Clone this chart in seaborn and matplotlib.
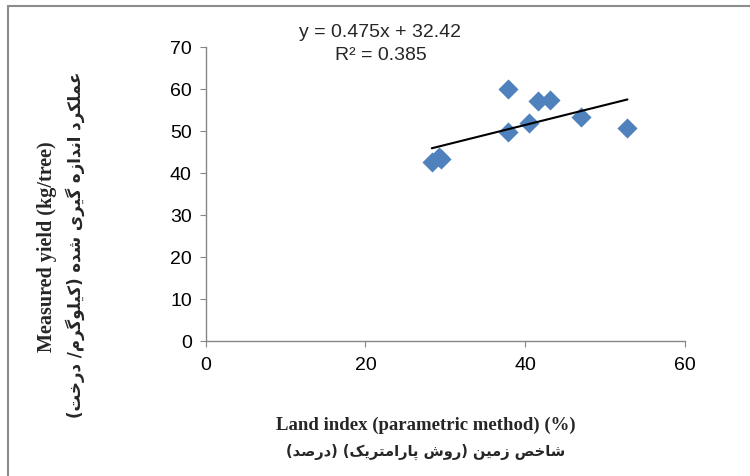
import numpy as np
import matplotlib
matplotlib.use('Agg')
import matplotlib.pyplot as plt
import seaborn as sns
import pandas as pd

# Data
land_index = [28.3, 29.2, 29.4, 37.8, 37.8, 40.5, 41.6, 43.1, 47.0, 52.8]
measured_yield = [42.6, 43.8, 43.2, 60.0, 49.7, 52.0, 57.2, 57.4, 53.2, 50.6]
slope = 0.475
intercept = 32.42
r_squared = 0.385

x_ticks = [0, 20, 40, 60]
y_ticks = [0, 10, 20, 30, 40, 50, 60, 70]

x_label_en = 'Land index (parametric method) (%)'
x_label_fa = 'شاخص زمین (روش پارامتریک) (درصد)'
y_label_en = 'Measured yield (kg/tree)'
y_label_fa = 'عملکرد اندازه گیری شده (کیلوگرم/ درخت)'


# ---- minimal Persian shaping (matplotlib has no bidi / joining) ----
# letter: (isolated, final, initial, medial)
FORMS = {
    'ا': (0xFE8D, 0xFE8E, None, None),
    'د': (0xFEA9, 0xFEAA, None, None),
    'ر': (0xFEAD, 0xFEAE, None, None),
    'ز': (0xFEAF, 0xFEB0, None, None),
    'و': (0xFEED, 0xFEEE, None, None),
    'ت': (0xFE95, 0xFE96, 0xFE97, 0xFE98),
    'خ': (0xFEA5, 0xFEA6, 0xFEA7, 0xFEA8),
    'ش': (0xFEB5, 0xFEB6, 0xFEB7, 0xFEB8),
    'ص': (0xFEB9, 0xFEBA, 0xFEBB, 0xFEBC),
    'ع': (0xFEC9, 0xFECA, 0xFECB, 0xFECC),
    'ل': (0xFEDD, 0xFEDE, 0xFEDF, 0xFEE0),
    'م': (0xFEE1, 0xFEE2, 0xFEE3, 0xFEE4),
    'ن': (0xFEE5, 0xFEE6, 0xFEE7, 0xFEE8),
    'ه': (0xFEE9, 0xFEEA, 0xFEEB, 0xFEEC),
    'پ': (0xFB56, 0xFB57, 0xFB58, 0xFB59),
    'ک': (0xFB8E, 0xFB8F, 0xFB90, 0xFB91),
    'گ': (0xFB92, 0xFB93, 0xFB94, 0xFB95),
    'ی': (0xFBFC, 0xFBFD, 0xFBFE, 0xFBFF),
}
MIRROR = {'(': ')', ')': '('}


def shape_fa(text):
    out = []
    for i, ch in enumerate(text):
        if ch not in FORMS:
            out.append(ch)
            continue
        iso, fin, ini, med = FORMS[ch]
        prev = text[i - 1] if i > 0 else ''
        nxt = text[i + 1] if i + 1 < len(text) else ''
        join_prev = prev in FORMS and FORMS[prev][2] is not None
        join_next = ini is not None and nxt in FORMS
        if join_prev and join_next:
            code = med
        elif join_prev:
            code = fin
        elif join_next:
            code = ini
        else:
            code = iso
        out.append(chr(code))
    return ''.join(MIRROR.get(c, c) for c in reversed(out))


sns.set_style('white')
plt.rcParams['font.family'] = ['Liberation Sans', 'DejaVu Sans']

fig = plt.figure(figsize=(7.5, 4.77), dpi=100)
ax = fig.add_axes([0.2743, 0.2836, 0.6390, 0.6158])

df = pd.DataFrame({'x': land_index, 'y': measured_yield})
sns.scatterplot(data=df, x='x', y='y', ax=ax, marker='D', s=105,
                color='#4F81BD', linewidth=0, zorder=3)

x_fit = np.array([min(land_index), max(land_index)])
ax.plot(x_fit, slope * x_fit + intercept, color='black', linewidth=1.5, zorder=4)

ax.set_xlim(0, 60)
ax.set_ylim(0, 70)
ax.set_xticks(x_ticks)
ax.set_yticks(y_ticks)
ax.tick_params(axis='both', labelsize=14, colors='#868686', labelcolor='black',
               length=4, width=0.8, direction='out', pad=6)
ax.tick_params(axis='x', pad=7)
ax.tick_params(left=True, bottom=True)
ax.set_xlabel('')
ax.set_ylabel('')
for side in ['top', 'right']:
    ax.spines[side].set_visible(False)
for side in ['left', 'bottom']:
    ax.spines[side].set_color('#868686')
    ax.spines[side].set_linewidth(1.0)

# equation
fig.text(0.507, 0.931, f'y = {slope}x + {intercept}', ha='center', va='center',
         fontsize=14)
fig.text(0.508, 0.884, f'R² = {r_squared}', ha='center', va='center', fontsize=14)

# axis titles (English + Persian)
fig.text(0.568, 0.109, x_label_en, ha='center', va='center', fontsize=13.5,
         fontweight='bold', family='Liberation Serif')
fig.text(0.568, 0.052, shape_fa(x_label_fa), ha='center', va='center',
         fontsize=10.5, fontweight='bold', family='DejaVu Sans')
fig.text(0.063, 0.482, y_label_en, ha='center', va='center', rotation=90,
         fontsize=14.5, fontweight='bold', family='Liberation Serif')
fig.text(0.100, 0.486, shape_fa(y_label_fa), ha='center', va='center', rotation=90,
         fontsize=12, fontweight='bold', family='DejaVu Sans')

# chart frame (top and left edges visible)
frame_color = '#8c8c8c'
fig.add_artist(plt.Line2D([0.0107, 1.0], [0.986, 0.986], transform=fig.transFigure,
                          color=frame_color, linewidth=1.5))
fig.add_artist(plt.Line2D([0.0107, 0.0107], [0.0, 0.986], transform=fig.transFigure,
                          color=frame_color, linewidth=1.5))

fig.savefig('out.png', dpi=100)
